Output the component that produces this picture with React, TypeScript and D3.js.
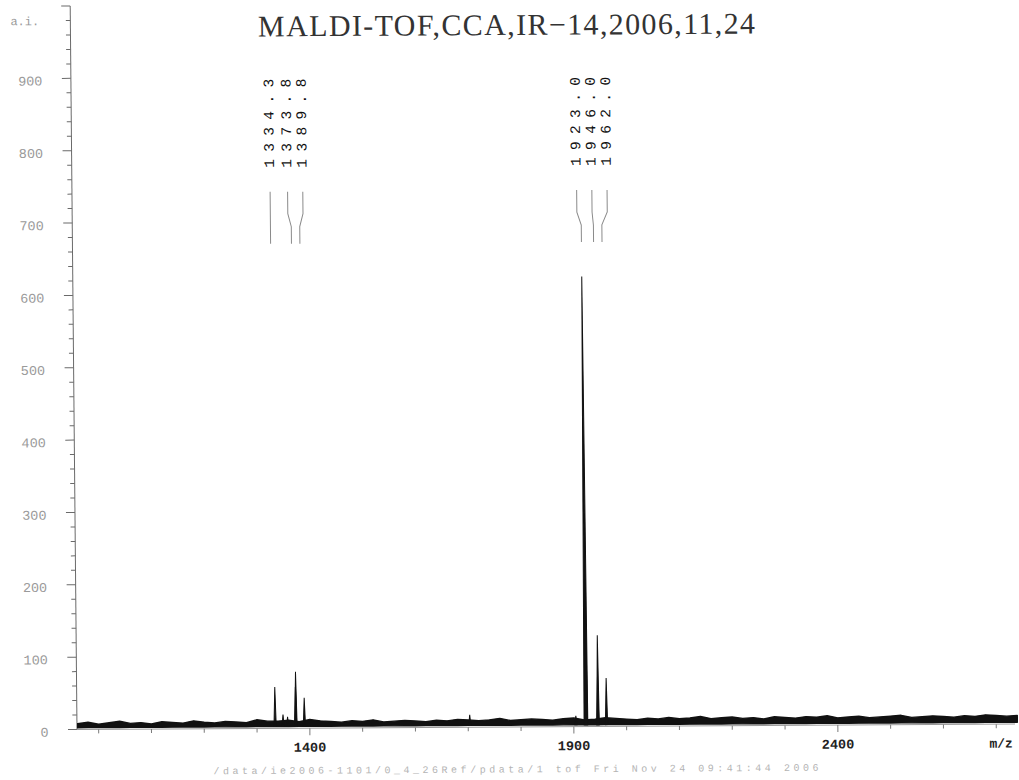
import React, { useEffect } from 'react';
import * as d3 from 'd3';

const W = 1019;
const H = 780;

// ---- text ----
const titleText = 'MALDI-TOF,CCA,IR\u221214,2006,11,24';
const yUnitText = 'a.i.';
const xUnitText = 'm/z';
const footerText = '/data/ie2006-1101/0_4_26Ref/pdata/1   tof   Fri Nov 24 09:41:44 2006';

// ---- axes ----
const xDomain = [959, 2735];
const yDomain = [0, 1000];
const yLabelTicks = [0, 100, 200, 300, 400, 500, 600, 700, 800, 900];
const xLabelTicks = [1400, 1900, 2400];

// ---- labelled peaks (m/z, intensity) ----
const labelledPeakMz = [1334.3, 1373.8, 1389.8, 1923.0, 1946.0, 1962.0];
const labelledPeakIntensity = [57, 78, 42, 622, 126, 67];

// ---- small unlabelled peaks ----
const minorPeakMz = [1349.4, 1358.0, 1373.3, 1703.0, 1904.0, 1945.6, 1923.2];
const minorPeakIntensity = [19, 16, 57, 17, 15, 68, 250];

// ---- baseline noise, sampled every 20 m/z from 960 ----
const baselineStartMz = 960;
const baselineStepMz = 20;
const baselineNoise = [
  8, 10, 7, 9, 11, 8, 9, 7, 10, 9, 8, 11, 9, 8, 10, 9, 8, 12, 10,
  10, 11, 9, 12, 10, 9, 8, 10, 9, 11, 8, 9, 10, 9, 8, 10, 9, 11, 10, 9, 10, 12, 9, 10, 11, 10, 9, 11, 12,
  9, 10, 12, 11, 10, 9, 11, 10, 12, 10, 11, 13, 10, 11, 12, 10, 11, 9, 12, 11, 10, 12, 11, 13, 10, 11,
  12, 10, 11, 12, 13, 10, 11, 12, 11, 10, 12, 11, 13, 12, 11, 12,
];
const noiseFloor = 2.5;

export default function App() {
  useEffect(() => {
    document.body.style.margin = '0';
  }, []);

  const xScale = d3.scaleLinear().domain(xDomain).range([77, 1014.7]);
  const yScale = d3.scaleLinear().domain(yDomain).range([729.5, 6]);

  // scanner tilt of the paper
  const a = 0.0094;
  const b = -0.0058;
  const px = 77;
  const py = 729.5;
  const tilt = `matrix(1,${b},${a},1,${-a * py},${-b * px})`;

  const mono = "'Liberation Mono', 'DejaVu Sans Mono', monospace";
  const serif = "'Liberation Serif', 'DejaVu Serif', serif";

  const noiseArea = d3
    .area<number>()
    .x((_, i) => xScale(baselineStartMz + i * baselineStepMz))
    .y0(yScale(noiseFloor))
    .y1((d) => yScale(d));

  const peakPath = (m: number, h: number) => {
    const hw = 2 + h / 400;
    const pts: [number, number][] = [
      [m - hw, noiseFloor],
      [m, h],
      [m + hw, noiseFloor],
    ];
    return d3
      .line<[number, number]>()
      .x((d) => xScale(d[0]))
      .y((d) => yScale(d[1]))(pts) + 'Z';
  };

  // label layout: spread overlapping labels around their cluster centre
  const minGap = 15.2;
  const peakX = labelledPeakMz.map((m) => xScale(m));
  let clusters = peakX.map((x, i) => ({ idx: [i], center: x }));
  let changed = true;
  while (changed) {
    changed = false;
    for (let i = 0; i < clusters.length - 1; i++) {
      const c1 = clusters[i];
      const c2 = clusters[i + 1];
      const right1 = c1.center + ((c1.idx.length - 1) / 2) * minGap;
      const left2 = c2.center - ((c2.idx.length - 1) / 2) * minGap;
      if (left2 - right1 < minGap) {
        const idx = [...c1.idx, ...c2.idx];
        const center = d3.mean(idx, (k) => peakX[k]) as number;
        clusters.splice(i, 2, { idx, center });
        changed = true;
        break;
      }
    }
  }
  const labelX: number[] = [];
  clusters.forEach((c) => {
    c.idx.forEach((k, j) => {
      labelX[k] = c.center + (j - (c.idx.length - 1) / 2) * minGap;
    });
  });

  const fmt = d3.format('.1f');
  const minorY = yScale.ticks(50);
  const minorX = xScale.ticks(18);

  return (
    <svg width={W} height={H} style={{ display: 'block', background: '#fff' }}>
      <defs>
        <clipPath id="plot">
          <rect x={77} y={0} width={W - 77} height={735} />
        </clipPath>
      </defs>
      <rect x={0} y={0} width={W} height={H} fill="#fff" />
      <g transform={tilt}>
        {/* title */}
        <text
          x={264.6}
          y={37.5}
          fontFamily={serif}
          fontSize={30}
          fill="#333"
          textLength={497}
          lengthAdjust="spacing"
        >
          {titleText}
        </text>

        {/* y unit */}
        <text x={17} y={22} dominantBaseline="central" fontFamily={mono} fontSize={12} fill="#9a9a9a">
          {yUnitText}
        </text>

        {/* y axis */}
        <line x1={77} x2={77} y1={yScale(0)} y2={yScale(1000)} stroke="#6a6a6a" strokeWidth={1} />
        {minorY.map((v) => {
          const major = v % 100 === 0;
          return (
            <line
              key={'yt' + v}
              x1={77}
              x2={major ? 68 : 72.5}
              y1={yScale(v)}
              y2={yScale(v)}
              stroke="#6a6a6a"
              strokeWidth={1}
            />
          );
        })}
        {yLabelTicks.map((v) => (
          <text
            key={'yl' + v}
            x={48.5}
            y={yScale(v) + 3.5}
            textAnchor="end"
            dominantBaseline="central"
            fontFamily={mono}
            fontSize={13.5}
            fill="#9a9a9a"
          >
            {v}
          </text>
        ))}

        {/* x axis */}
        <line x1={77} x2={1015} y1={yScale(0)} y2={yScale(0)} stroke="#9a9a9a" strokeWidth={1} />
        {minorX.map((v) => {
          const major = xLabelTicks.includes(v);
          return (
            <line
              key={'xt' + v}
              x1={xScale(v)}
              x2={xScale(v)}
              y1={yScale(0)}
              y2={yScale(0) + (major ? 7 : 4)}
              stroke="#7a7a7a"
              strokeWidth={1}
            />
          );
        })}
        {xLabelTicks.map((v) => (
          <text
            key={'xl' + v}
            x={xScale(v)}
            y={749.5}
            textAnchor="middle"
            dominantBaseline="central"
            fontFamily={mono}
            fontWeight="bold"
            fontSize={13.5}
            fill="#222"
          >
            {v}
          </text>
        ))}
        <text
          x={1001}
          y={749.5}
          textAnchor="middle"
          dominantBaseline="central"
          fontFamily={mono}
          fontWeight="bold"
          fontSize={13}
          fill="#222"
        >
          {xUnitText}
        </text>

        {/* spectrum */}
        <g clipPath="url(#plot)">
          <path
            d={noiseArea(baselineNoise) || ''}
            fill="#111"
            stroke="#111"
            strokeWidth={1.4}
            strokeLinejoin="round"
          />
          {minorPeakMz.map((m, i) => (
            <path key={'mp' + i} d={peakPath(m, minorPeakIntensity[i])} fill="#111" stroke="#111" strokeWidth={1} />
          ))}
          {labelledPeakMz.map((m, i) => (
            <path key={'lp' + i} d={peakPath(m, labelledPeakIntensity[i])} fill="#111" stroke="#111" strokeWidth={1} />
          ))}
        </g>

        {/* peak labels with leader lines */}
        {labelledPeakMz.map((m, i) => {
          const lx = labelX[i];
          const pxk = peakX[i];
          return (
            <g key={'lab' + i}>
              <path
                d={`M${lx},193 L${lx},215 L${pxk},228 L${pxk},245`}
                fill="none"
                stroke="#8a8a8a"
                strokeWidth={1}
              />
              <text
                transform={`translate(${lx},169) rotate(-90)`}
                dominantBaseline="central"
                fontFamily={mono}
                fontSize={14.5}
                fill="#111"
                textLength={89}
                lengthAdjust="spacing"
              >
                {fmt(m)}
              </text>
            </g>
          );
        })}

        {/* footer */}
        <text
          x={213}
          y={772.5}
          dominantBaseline="central"
          fontFamily={mono}
          fontSize={10}
          fill="#b4b4b4"
          textLength={605}
          lengthAdjust="spacing"
        >
          {footerText}
        </text>
      </g>
    </svg>
  );
}
